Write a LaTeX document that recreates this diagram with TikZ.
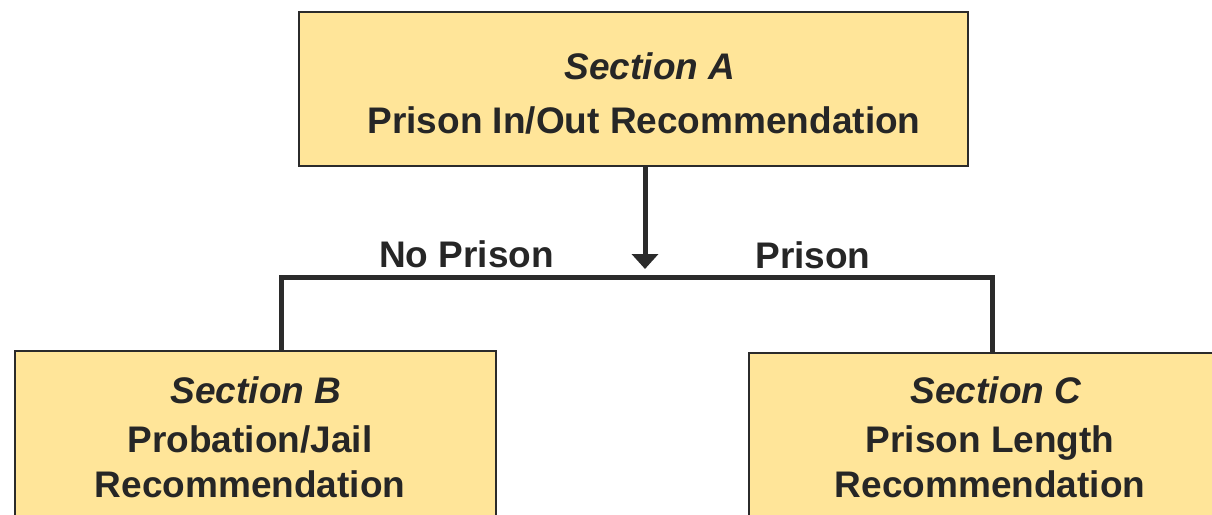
\documentclass[tikz,border=0pt]{standalone}
\usepackage{fontspec}
\setmainfont{Liberation Sans}
\usetikzlibrary{positioning, arrows.meta}
\definecolor{boxfill}{HTML}{FFE599}
\definecolor{linegray}{HTML}{2B2B2B}
\definecolor{textgray}{HTML}{262626}

\begin{document}
\begin{tikzpicture}[x=1pt, y=-1pt,
    section/.style={
        draw=linegray,
        line width=1.5pt,
        fill=boxfill,
        rectangle,
        inner sep=0pt},
    line/.style={
        inner sep=0pt,
        anchor=base,
        text=textgray,
        font=\fontsize{37}{44}\selectfont\bfseries},
    title/.style={line, font=\fontsize{37}{44}\selectfont\bfseries\itshape},
    link/.style={draw=linegray, line width=5pt}]

    \clip (0,0) rectangle (1212,514);
    \useasboundingbox (0,0) rectangle (1212,514);

    \node[section, minimum width=669pt, minimum height=154pt] (secA) at (633.5,89) {};
    \node[section, minimum width=481pt, minimum height=209pt] (secB) at (255.5,455.5) {};
    \node[section, minimum width=482pt, minimum height=207pt] (secC) at (990,456.5) {};

    \node[title] (titleA) at (650,79.5) {Section A};
    \node[line]  (nameA)  at (644,133) {Prison In/Out Recommendation};

    \node[title] (titleB) at (256,403) {Section B};
    \node[line]  (nameB)  at (250,452) {Probation/Jail};
    \node[line]  (recB)   at (250,497) {Recommendation};

    \node[title] (titleC) at (996,403) {Section C};
    \node[line]  (nameC)  at (990,452) {Prison Length};
    \node[line]  (recC)   at (990,497) {Recommendation};

    \coordinate (split) at (645,277.5);
    \coordinate (tip) at (645,269);

    \draw[link, -{Triangle[width=26pt, length=15pt]}] (secA.south -| split) -- (tip);
    \draw[link] ([xshift=25.5pt]secB.north) |- (split) -| ([xshift=2pt]secC.north);

    \node[line] (noprison) at (466.5,267) {No Prison};
    \node[line] (prison) at (813,268) {Prison};
\end{tikzpicture}
\end{document}
